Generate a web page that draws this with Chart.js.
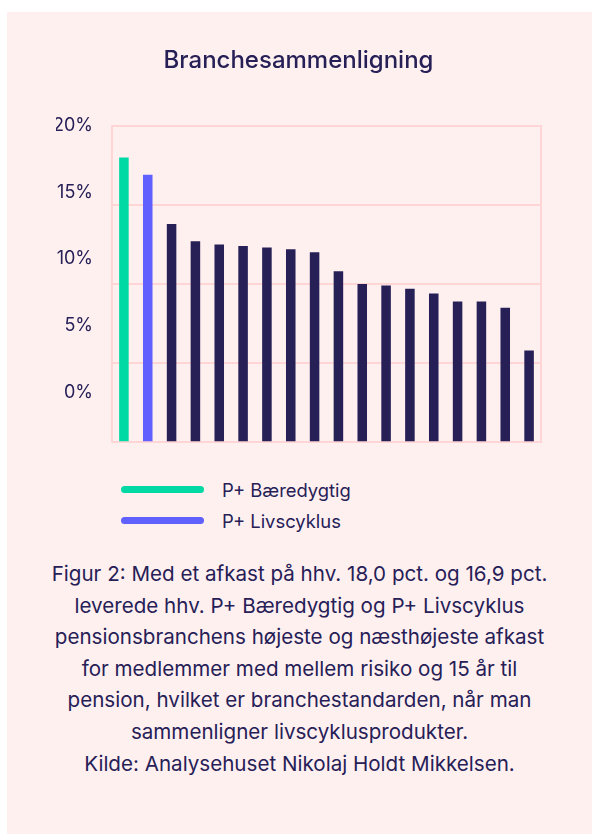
<!DOCTYPE html>
<html>
<head>
<meta charset="utf-8">
<script src="https://cdn.jsdelivr.net/npm/chart.js@4"></script>
<style>
  body { margin: 0; background: #fff; font-family: Inter, "Noto Sans", sans-serif; }
  .card { position: absolute; left: 7px; top: 12px; width: 585px; height: 822px; background: #fff0f0; }
  .chart-box { position: absolute; left: 0; top: 0; width: 585px; height: 460px; }
  .legend { position: absolute; left: 114px; top: 462px; color: #262057; font-size: 18.4px; }
  .legend div { height: 31px; display: flex; align-items: center; }
  .legend span.line { display: inline-block; width: 83px; height: 7px; border-radius: 4px; margin-right: 18px; }
  .caption { position: absolute; left: 0; top: 546px; width: 585px; text-align: center;
             color: #262057; font-size: 20.6px; line-height: 31.6px; }
</style>
</head>
<body>
<div class="card">
  <div class="chart-box"><canvas id="benchChart"></canvas></div>
  <div class="legend" id="legend"></div>
  <div class="caption">
    Figur 2: Med et afkast på hhv. 18,0 pct. og 16,9 pct.<br>
    leverede hhv. P+ Bæredygtig og P+ Livscyklus<br>
    pensionsbranchens højeste og næsthøjeste afkast<br>
    for medlemmer med mellem risiko og 15 år til<br>
    pension, hvilket er branchestandarden, når man<br>
    sammenligner livscyklusprodukter.<br>
    Kilde: Analysehuset Nikolaj Holdt Mikkelsen.
  </div>
</div>
<script>
const companies = ['P+ Bæredygtig', 'P+ Livscyklus',
    'Selskab 3', 'Selskab 4', 'Selskab 5', 'Selskab 6', 'Selskab 7', 'Selskab 8',
    'Selskab 9', 'Selskab 10', 'Selskab 11', 'Selskab 12', 'Selskab 13', 'Selskab 14',
    'Selskab 15', 'Selskab 16', 'Selskab 17', 'Selskab 18'];
const returns = [18.0, 16.9, 13.8, 12.7, 12.5, 12.4, 12.3, 12.2, 12.0, 10.8,
    10.0, 9.9, 9.7, 9.4, 8.9, 8.9, 8.5, 5.8];
const tickValues = [0, 5, 10, 15, 20];
const legendItems = ['P+ Bæredygtig', 'P+ Livscyklus'];

const navy = '#262057';
const green = '#00d9a3';
const blue = '#6060ff';
const gridPink = '#ffd5d5';

const barColors = returns.map((v, i) => i === 0 ? green : (i === 1 ? blue : navy));

// legend in html
const legendEl = document.getElementById('legend');
[green, blue].forEach((c, i) => {
    const row = document.createElement('div');
    row.innerHTML = `<span class="line" style="background:${c}"></span>${legendItems[i]}`;
    legendEl.appendChild(row);
});

const ctx = document.getElementById('benchChart').getContext('2d');
const benchChart = new Chart(ctx, {
    type: 'bar',
    data: {
        labels: companies,
        datasets: [{
            label: 'Afkast',
            data: returns,
            backgroundColor: barColors,
            barPercentage: 0.4,
            categoryPercentage: 1
        }]
    },
    options: {
        responsive: true,
        maintainAspectRatio: false,
        animation: false,
        // bottom gap comes from the label axis padding (~30px)
        layout: { padding: { left: 49, right: 51, top: 0, bottom: 0 } },
        plugins: {
            legend: { display: false },
            tooltip: { enabled: false },
            title: {
                display: true,
                text: 'Branchesammenligning',
                color: navy,
                font: { family: 'Inter', size: 24, weight: '500' },
                padding: { top: 34, bottom: 51 }
            }
        },
        scales: {
            x: {
                ticks: { display: false },
                grid: { display: false, drawTicks: false },
                border: { display: true, color: gridPink, width: 2 }
            },
            y: {
                position: 'left',
                min: 0,
                max: 20,
                afterBuildTicks: s => { s.ticks = tickValues.map(v => ({ value: v })); },
                ticks: { display: false },
                grid: { color: gridPink, lineWidth: 2, drawTicks: false },
                border: { display: true, color: gridPink, width: 2 }
            },
            yLabels: {
                position: 'left',
                min: -3.75,
                max: 20,
                afterBuildTicks: s => { s.ticks = tickValues.map(v => ({ value: v })); },
                afterFit: s => { s.width = 56; },
                ticks: {
                    color: navy,
                    padding: 19,
                    font: { family: 'Inter', size: 18 },
                    callback: v => v + '%'
                },
                grid: { display: false, drawTicks: false },
                border: { display: false }
            },
            yRight: {
                position: 'right',
                min: 0,
                max: 20,
                ticks: { display: false },
                grid: { display: false, drawTicks: false },
                border: { display: true, color: gridPink, width: 2 }
            }
        }
    }
});
</script>
</body>
</html>
